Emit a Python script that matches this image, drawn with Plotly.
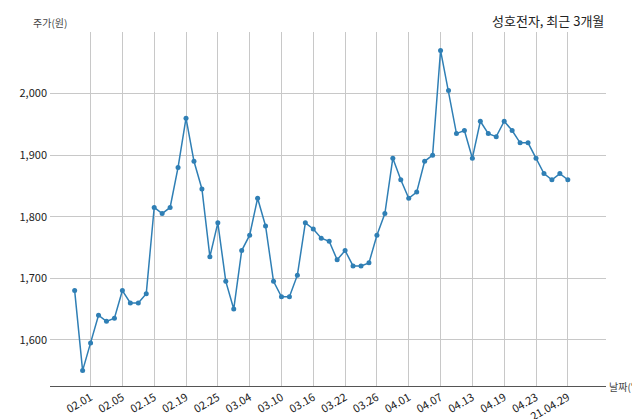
import plotly.graph_objects as go

# 주가 데이터 (최근 3개월)
prices = [1680, 1550, 1595, 1640, 1630, 1635, 1680, 1660, 1660, 1675,
          1815, 1805, 1815, 1880, 1960, 1890, 1845, 1735, 1790, 1695,
          1650, 1745, 1770, 1830, 1785, 1695, 1670, 1670, 1705, 1790,
          1780, 1765, 1760, 1730, 1745, 1720, 1720, 1725, 1770, 1805,
          1895, 1860, 1830, 1840, 1890, 1900, 2070, 2005, 1935, 1940,
          1895, 1955, 1935, 1930, 1955, 1940, 1920, 1920, 1895, 1870,
          1860, 1870, 1860]
tick_labels = ['02.01', '02.05', '02.15', '02.19', '02.25', '03.04', '03.10', '03.16',
               '03.22', '03.26', '04.01', '04.07', '04.13', '04.19', '04.23', '21.04.29']

x = list(range(len(prices)))
tick_pos = x[2::4]

fig = go.Figure(go.Scatter(
    x=x, y=prices, mode='lines+markers',
    line=dict(color='#2f7fb5', width=1.5),
    marker=dict(color='#2f7fb5', size=5),
))

fig.update_layout(
    width=640, height=419,
    margin=dict(l=42, r=42, t=24, b=41, autoexpand=False),
    plot_bgcolor='white', paper_bgcolor='white',
    showlegend=False,
    font=dict(family='Noto Sans CJK KR', size=11, color='#222'),
    xaxis=dict(
        range=[-3.1, 66.8], tickvals=tick_pos, ticktext=tick_labels,
        tickangle=-30, showgrid=True, gridcolor='#c8c8c8', zeroline=False,
        showline=True, linecolor='#555', linewidth=1, ticks='', automargin=False,
    ),
    yaxis=dict(
        range=[1525, 2100], tickvals=[1600, 1700, 1800, 1900, 2000],
        tickformat=',', showgrid=True, gridcolor='#c8c8c8', zeroline=False,
        showline=False, ticks='', automargin=False, ticklabelstandoff=2,
    ),
    annotations=[
        dict(text='성호전자, 최근 3개월', x=1.0, y=1.0, xref='paper', yref='paper',
             xanchor='right', yanchor='bottom', showarrow=False, font=dict(size=13)),
        dict(text='주가(원)', x=0, y=1.0, xref='paper', yref='paper',
             xanchor='center', yanchor='bottom', showarrow=False, font=dict(size=10, color='#444')),
        dict(text='날짜(일)', x=1.0, y=0, xref='paper', yref='paper', xshift=1,
             xanchor='left', yanchor='middle', showarrow=False, font=dict(size=10, color='#444')),
    ],
)

fig.write_html("out.html")
